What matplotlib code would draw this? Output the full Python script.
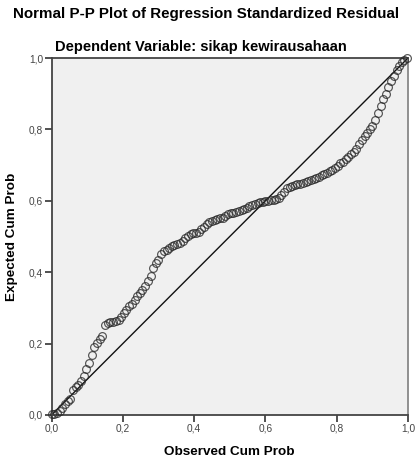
import matplotlib
matplotlib.use("Agg")
import matplotlib.pyplot as plt
from matplotlib.ticker import FixedLocator

plt.rcParams['font.family'] = ['Liberation Sans', 'DejaVu Sans']

observed = [0.000, 0.008, 0.015, 0.023, 0.030, 0.038, 0.045, 0.053, 0.060, 0.068,
            0.075, 0.083, 0.090, 0.098, 0.105, 0.113, 0.120, 0.128, 0.135, 0.143,
            0.150, 0.158, 0.165, 0.173, 0.180, 0.188, 0.195, 0.203, 0.210, 0.218,
            0.225, 0.233, 0.240, 0.248, 0.255, 0.263, 0.270, 0.278, 0.285, 0.293,
            0.300, 0.308, 0.315, 0.323, 0.330, 0.338, 0.345, 0.353, 0.360, 0.368,
            0.375, 0.383, 0.390, 0.398, 0.405, 0.413, 0.420, 0.428, 0.435, 0.443,
            0.450, 0.458, 0.465, 0.473, 0.480, 0.488, 0.495, 0.503, 0.510, 0.518,
            0.525, 0.533, 0.540, 0.548, 0.555, 0.563, 0.570, 0.578, 0.585, 0.593,
            0.600, 0.608, 0.615, 0.623, 0.630, 0.638, 0.645, 0.653, 0.660, 0.668,
            0.675, 0.683, 0.690, 0.698, 0.705, 0.713, 0.720, 0.728, 0.735, 0.743,
            0.750, 0.758, 0.765, 0.773, 0.780, 0.788, 0.795, 0.803, 0.810, 0.818,
            0.825, 0.833, 0.840, 0.848, 0.855, 0.863, 0.870, 0.878, 0.885, 0.893,
            0.900, 0.908, 0.915, 0.923, 0.930, 0.938, 0.945, 0.953, 0.960, 0.968,
            0.975, 0.983, 0.990, 0.998]
expected = [0.003, 0.004, 0.006, 0.010, 0.020, 0.030, 0.038, 0.046, 0.070, 0.078,
            0.085, 0.095, 0.110, 0.128, 0.147, 0.168, 0.190, 0.202, 0.212, 0.222,
            0.252, 0.257, 0.260, 0.261, 0.262, 0.266, 0.275, 0.286, 0.295, 0.304,
            0.312, 0.321, 0.333, 0.343, 0.350, 0.360, 0.375, 0.390, 0.412, 0.425,
            0.435, 0.452, 0.460, 0.463, 0.468, 0.473, 0.477, 0.480, 0.483, 0.488,
            0.495, 0.502, 0.506, 0.509, 0.511, 0.514, 0.520, 0.528, 0.535, 0.541,
            0.543, 0.545, 0.548, 0.551, 0.553, 0.557, 0.562, 0.566, 0.567, 0.569,
            0.572, 0.575, 0.578, 0.581, 0.585, 0.589, 0.592, 0.595, 0.597, 0.598,
            0.599, 0.600, 0.601, 0.603, 0.605, 0.607, 0.615, 0.625, 0.635, 0.640,
            0.642, 0.644, 0.646, 0.648, 0.650, 0.653, 0.655, 0.657, 0.660, 0.664,
            0.668, 0.671, 0.674, 0.677, 0.683, 0.687, 0.692, 0.698, 0.705, 0.710,
            0.716, 0.722, 0.730, 0.738, 0.746, 0.760, 0.770, 0.781, 0.790, 0.800,
            0.810, 0.825, 0.845, 0.865, 0.885, 0.900, 0.918, 0.935, 0.950, 0.966,
            0.978, 0.989, 0.995, 1.000]
ticks = [0.0, 0.2, 0.4, 0.6, 0.8, 1.0]
tick_labels = ["0,0", "0,2", "0,4", "0,6", "0,8", "1,0"]

fig = plt.figure(figsize=(4.15, 4.59), dpi=100)
ax = fig.add_axes([51.5/415, 1 - 415/459, (408 - 51.5)/415, (415 - 58)/459])
ax.set_facecolor('#f0f0f0')
ax.set_xlim(0, 1)
ax.set_ylim(0, 1)

ax.plot([0, 1], [0, 1], color='#111111', linewidth=1.0, zorder=2)
ax.plot(observed, expected, linestyle='none', marker='o', markersize=5.6,
        markerfacecolor='none', markeredgecolor='#2a2a2a', markeredgewidth=0.85,
        alpha=0.8, zorder=3, clip_on=False)

ax.xaxis.set_major_locator(FixedLocator(ticks))
ax.yaxis.set_major_locator(FixedLocator(ticks))
ax.set_xticklabels(tick_labels)
ax.set_yticklabels(tick_labels)
ax.tick_params(axis='both', direction='out', length=5, width=1.2, color='#333333',
               labelsize=7.3, labelcolor='#444444', pad=1)
for s in ax.spines.values():
    s.set_color('#444444')
    s.set_linewidth(1.3)
ax.spines['right'].set_color('#888888')

ax.set_xlabel('Observed Cum Prob', fontsize=9.7, fontweight='bold', labelpad=9)
ax.set_ylabel('Expected Cum Prob', fontsize=9.7, fontweight='bold', labelpad=8)

fig.text(206/415, 1 - 14/459, 'Normal P-P Plot of Regression Standardized Residual',
         ha='center', va='center', fontsize=10.9, fontweight='bold')
fig.text(201/415, 1 - 47/459, 'Dependent Variable: sikap kewirausahaan',
         ha='center', va='center', fontsize=10.5, fontweight='bold')

fig.savefig('out.png', dpi=100)
